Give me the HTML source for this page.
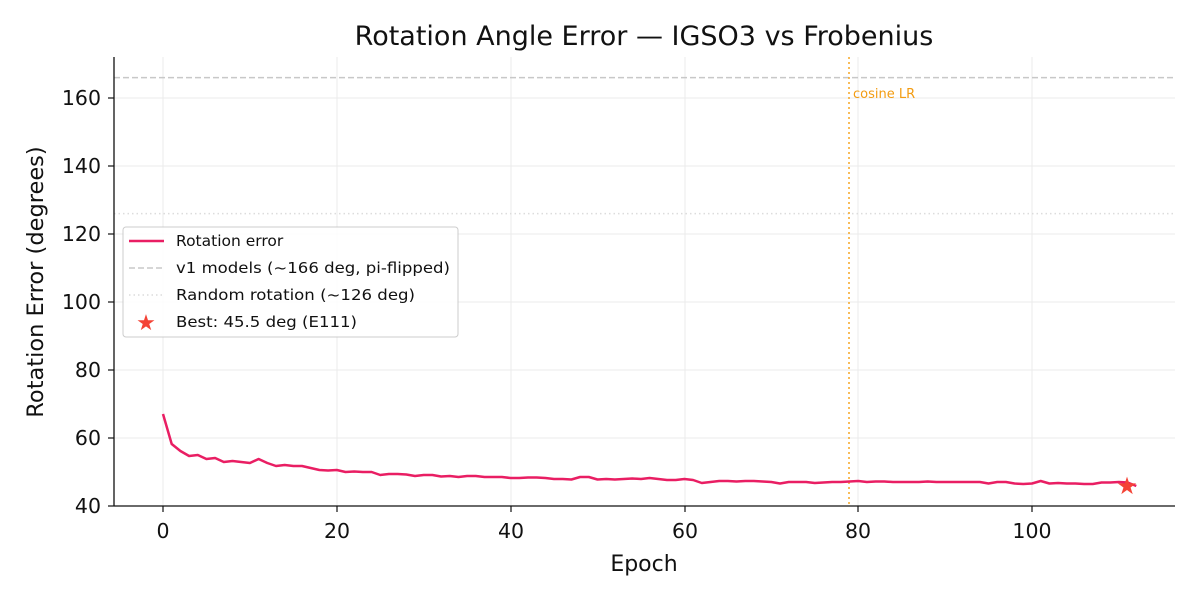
<!DOCTYPE html>
<html><head><meta charset="utf-8"><style>
body{margin:0;background:#fff}
text{font-family:"DejaVu Sans","Liberation Sans",sans-serif}
</style></head><body>
<svg id="s" width="1200" height="600" xmlns="http://www.w3.org/2000/svg">
<rect width="1200" height="600" fill="#fff"/>
<g stroke="#ebebeb" stroke-width="1">
<line x1="163" y1="57" x2="163" y2="506"/><line x1="337" y1="57" x2="337" y2="506"/><line x1="511" y1="57" x2="511" y2="506"/><line x1="685" y1="57" x2="685" y2="506"/><line x1="858" y1="57" x2="858" y2="506"/><line x1="1032" y1="57" x2="1032" y2="506"/>
<line x1="114" y1="438" x2="1175" y2="438"/><line x1="114" y1="370" x2="1175" y2="370"/><line x1="114" y1="302" x2="1175" y2="302"/><line x1="114" y1="234" x2="1175" y2="234"/><line x1="114" y1="166" x2="1175" y2="166"/><line x1="114" y1="98" x2="1175" y2="98"/>
</g>
<line x1="114" y1="77.6" x2="1175" y2="77.6" stroke="#c8c8c8" stroke-width="1.5" stroke-dasharray="6,3"/>
<line x1="114" y1="213.6" x2="1175" y2="213.6" stroke="#dcdcdc" stroke-width="1.5" stroke-dasharray="1.5,3"/>
<line x1="849" y1="57" x2="849" y2="506" stroke="#f5a623" stroke-width="1.5" stroke-dasharray="2,3"/>
<text x="853" y="98" font-size="13" fill="#f39c12">cosine LR</text>
<polyline id="curve" fill="none" stroke="#e91e63" stroke-width="2.5" stroke-linejoin="round"/>
<text x="1127" y="494" font-size="24" fill="#f44336" text-anchor="middle">★</text>
<g stroke="#111" stroke-width="1.3"><line x1="114" y1="57" x2="114" y2="506"/><line x1="114" y1="506" x2="1175" y2="506"/></g>
<g stroke="#111" stroke-width="1.2">
<line x1="163" y1="506" x2="163" y2="512"/><line x1="337" y1="506" x2="337" y2="512"/><line x1="511" y1="506" x2="511" y2="512"/><line x1="685" y1="506" x2="685" y2="512"/><line x1="858" y1="506" x2="858" y2="512"/><line x1="1032" y1="506" x2="1032" y2="512"/>
<line x1="108" y1="506" x2="114" y2="506"/><line x1="108" y1="438" x2="114" y2="438"/><line x1="108" y1="370" x2="114" y2="370"/><line x1="108" y1="302" x2="114" y2="302"/><line x1="108" y1="234" x2="114" y2="234"/><line x1="108" y1="166" x2="114" y2="166"/><line x1="108" y1="98" x2="114" y2="98"/>
</g>
<g font-size="20.5" fill="#111" text-anchor="middle">
<text x="163" y="538">0</text><text x="337" y="538">20</text><text x="511" y="538">40</text><text x="685" y="538">60</text><text x="858" y="538">80</text><text x="1032" y="538">100</text>
</g>
<g font-size="20.5" fill="#111" text-anchor="end">
<text x="101" y="513">40</text><text x="101" y="445">60</text><text x="101" y="377">80</text><text x="101" y="309">100</text><text x="101" y="241">120</text><text x="101" y="173">140</text><text x="101" y="105">160</text>
</g>
<text x="644" y="571" font-size="22" fill="#111" text-anchor="middle">Epoch</text>
<text transform="translate(43,282) rotate(-90)" font-size="22.5" fill="#111" text-anchor="middle">Rotation Error (degrees)</text>
<text x="644" y="45" font-size="27" fill="#111" text-anchor="middle">Rotation Angle Error — IGSO3 vs Frobenius</text>
<rect x="123" y="227" width="335" height="110" rx="3" fill="#fff" fill-opacity="0.85" stroke="#ccc"/>
<line x1="129" y1="241" x2="164" y2="241" stroke="#e91e63" stroke-width="2.5"/>
<line x1="129" y1="268" x2="164" y2="268" stroke="#c8c8c8" stroke-width="1.5" stroke-dasharray="6,3"/>
<line x1="129" y1="295" x2="164" y2="295" stroke="#dcdcdc" stroke-width="1.5" stroke-dasharray="1.5,3"/>
<text x="146" y="330" font-size="22" fill="#f44336" text-anchor="middle">★</text>
<g font-size="15.5" fill="#111" textLength="1">
<text x="176" y="246">Rotation error</text>
<text x="176" y="273" textLength="274" lengthAdjust="spacingAndGlyphs">v1 models (~166 deg, pi-flipped)</text>
<text x="176" y="300" textLength="239" lengthAdjust="spacingAndGlyphs">Random rotation (~126 deg)</text>
<text x="176" y="327" textLength="181" lengthAdjust="spacingAndGlyphs">Best: 45.5 deg (E111)</text>
</g>
</svg>
<script>
var ys=[414,444,451,456,455,459,458,462,461,462,463,459,463,466,465,466,466,468,470,470.5,470,472,471.5,472,472,475,474,474,474.5,476,475,475,476.5,476,477,476,476,477,477,477,478,478,477.5,477.5,478,479,479,479.5,477,477,479.5,479,479.5,479,478.5,479,478,479,480,480,479,480,483,482,481,481,481.5,481,481,481.5,482,483.5,482,482,482,483,482.5,482,482,481.5,481,482,481.5,481.5,482,482,482,482,481.5,482,482,482,482,482,482,483.5,482,482,483.5,484,483.5,481,483.5,483,483.5,483.5,484,484,482.5,482.5,482,482.5,486];
var p=[];for(var i=0;i<ys.length;i++){p.push((163+8.69*i).toFixed(1)+","+ys[i]);}
document.getElementById("curve").setAttribute("points",p.join(" "));
</script>
</body></html>
